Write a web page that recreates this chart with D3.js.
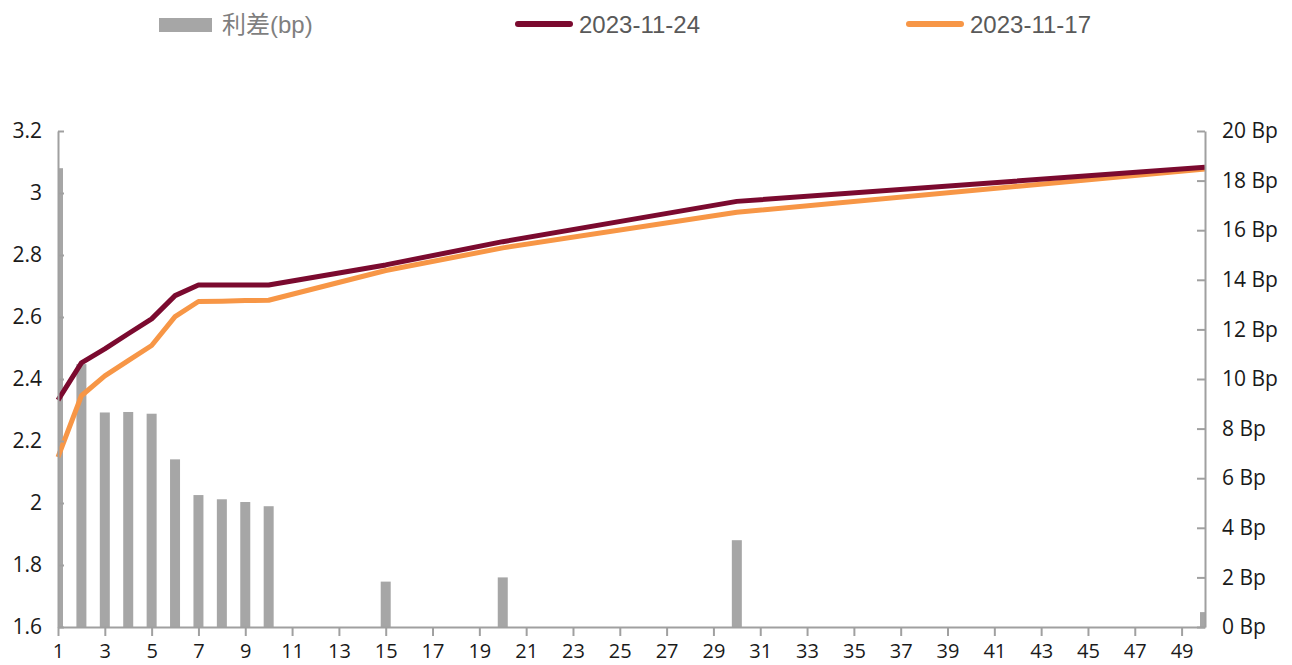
<!DOCTYPE html>
<html>
<head>
<meta charset="utf-8">
<script src="https://cdn.jsdelivr.net/npm/d3@7"></script>
<style>
  body { margin: 0; background: #fff; }
</style>
</head>
<body>
<div id="vis"></div>
<script>
const FRAME_WIDTH = 1292;
const FRAME_HEIGHT = 665;
const MARGINS = {left: 58, right: 87, top: 131, bottom: 38};

// tenor in years
const tenors = [1, 2, 3, 4, 5, 6, 7, 8, 9, 10, 15, 20, 30, 50];
// yield curve 2023-11-24
const curveNew = [2.332, 2.452, 2.497, 2.546, 2.594, 2.669, 2.703, 2.703, 2.703, 2.703, 2.768, 2.843, 2.973, 3.083];
// yield curve 2023-11-17
const curveOld = [2.148, 2.346, 2.410, 2.459, 2.508, 2.601, 2.650, 2.651, 2.653, 2.654, 2.750, 2.823, 2.938, 3.077];
// spread in bp
const spread = [18.5, 10.6, 8.65, 8.67, 8.6, 6.76, 5.32, 5.15, 5.04, 4.87, 1.83, 2.0, 3.5, 0.6];

const xTicks = d3.range(1, 50, 2);
const leftTicks = [1.6, 1.8, 2, 2.2, 2.4, 2.6, 2.8, 3, 3.2];
const rightTicks = [0, 2, 4, 6, 8, 10, 12, 14, 16, 18, 20];

const legendItems = [
  {label: '利差(bp)', type: 'bar', color: '#a6a6a6', x: 159, textColor: '#7f7f7f'},
  {label: '2023-11-24', type: 'line', color: '#7b0a2f', x: 515, textColor: '#595959'},
  {label: '2023-11-17', type: 'line', color: '#f79646', x: 906, textColor: '#595959'}
];

const AXIS_COLOR = '#a0a0a0';
const TICK_FONT = '"Open Sans", "Liberation Sans", Arial, sans-serif';

const VIS_WIDTH = FRAME_WIDTH - MARGINS.left - MARGINS.right;
const VIS_HEIGHT = FRAME_HEIGHT - MARGINS.top - MARGINS.bottom;

const FRAME = d3.select('#vis')
  .append('svg')
    .attr('width', FRAME_WIDTH)
    .attr('height', FRAME_HEIGHT);

const X_SCALE = d3.scaleLinear().domain([1, 50]).range([0, VIS_WIDTH]);
const Y_LEFT = d3.scaleLinear().domain([1.6, 3.2]).range([VIS_HEIGHT, 0]);
const Y_RIGHT = d3.scaleLinear().domain([0, 20]).range([VIS_HEIGHT, 0]);

const plot = FRAME.append('g')
  .attr('transform', 'translate(' + MARGINS.left + ',' + MARGINS.top + ')');

plot.append('clipPath')
  .attr('id', 'clip')
  .append('rect')
    .attr('x', 0).attr('y', -10)
    .attr('width', VIS_WIDTH).attr('height', VIS_HEIGHT + 10);

// bars (spread, right axis)
const BAR_W = 10;
plot.append('g')
  .attr('clip-path', 'url(#clip)')
  .selectAll('rect')
  .data(tenors)
  .enter()
  .append('rect')
    .attr('x', (d) => X_SCALE(d) - BAR_W / 2)
    .attr('y', (d, i) => Y_RIGHT(spread[i]))
    .attr('width', BAR_W)
    .attr('height', (d, i) => VIS_HEIGHT - Y_RIGHT(spread[i]))
    .attr('fill', '#a6a6a6');

// lines
const line = d3.line()
  .x((d) => X_SCALE(d[0]))
  .y((d) => Y_LEFT(d[1]));

plot.append('path')
  .datum(tenors.map((t, i) => [t, curveOld[i]]))
  .attr('d', line)
  .attr('fill', 'none')
  .attr('stroke', '#f79646')
  .attr('stroke-width', 5)
  .attr('stroke-linejoin', 'round');

plot.append('path')
  .datum(tenors.map((t, i) => [t, curveNew[i]]))
  .attr('d', line)
  .attr('fill', 'none')
  .attr('stroke', '#7b0a2f')
  .attr('stroke-width', 5)
  .attr('stroke-linejoin', 'round');

// axes
function styleAxis(g, size) {
  g.select('.domain').attr('stroke', AXIS_COLOR).attr('stroke-width', 2);
  g.selectAll('.tick line').attr('stroke', AXIS_COLOR).attr('stroke-width', 2);
  g.selectAll('.tick text')
    .attr('fill', '#1a1a1a')
    .attr('font-size', size)
    .attr('font-family', TICK_FONT);
}

plot.append('g')
  .call(d3.axisLeft(Y_LEFT).tickValues(leftTicks).tickSizeInner(-6).tickSizeOuter(0)
    .tickPadding(16).tickFormat((d) => d3.format('')(+d.toFixed(1))))
  .call(styleAxis, '21px');

plot.append('g')
  .attr('transform', 'translate(' + VIS_WIDTH + ',0)')
  .call(d3.axisRight(Y_RIGHT).tickValues(rightTicks).tickSizeInner(-8).tickSizeOuter(0)
    .tickPadding(17).tickFormat((d) => d + ' Bp'))
  .call(styleAxis, '21px');

plot.append('g')
  .attr('transform', 'translate(0,' + VIS_HEIGHT + ')')
  .call(d3.axisBottom(X_SCALE).tickValues(xTicks).tickSizeInner(9).tickSizeOuter(0)
    .tickPadding(8).tickFormat(d3.format('d')))
  .call(styleAxis, '20px');

// legend
const legend = FRAME.append('g');
legendItems.forEach((item) => {
  if (item.type === 'bar') {
    legend.append('rect')
      .attr('x', item.x).attr('y', 18)
      .attr('width', 53).attr('height', 14)
      .attr('fill', item.color);
  } else {
    legend.append('line')
      .attr('x1', item.x + 3).attr('x2', item.x + 55)
      .attr('y1', 24).attr('y2', 24)
      .attr('stroke', item.color)
      .attr('stroke-width', 6)
      .attr('stroke-linecap', 'round');
  }
  legend.append('text')
    .attr('x', item.x + (item.type === 'bar' ? 63 : 64))
    .attr('y', 33)
    .attr('font-size', '24px')
    .attr('font-family', '"Liberation Sans", "Noto Sans CJK SC", Arial, sans-serif')
    .attr('fill', item.textColor)
    .text(item.label);
});
</script>
</body>
</html>
